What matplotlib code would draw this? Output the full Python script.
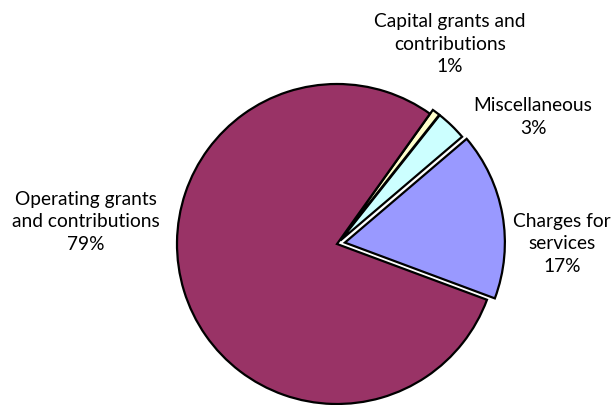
import matplotlib.pyplot as plt

# revenue shares (percent)
labels = ['Charges for\nservices\n17%', 'Miscellaneous\n3%',
          'Capital grants and\ncontributions\n1%',
          'Operating grants\nand contributions\n79%']
values = [16.9, 3.1, 0.8, 79.2]
colors = ['#9999FF', '#CCFFFF', '#FFFFCC', '#993366']
explode = [0.05, 0.03, 0.03, 0.0]

plt.rcParams['font.family'] = ['Lato', 'DejaVu Sans']

fig = plt.figure(figsize=(6.15, 4.06), dpi=100)
ax = fig.add_axes([0, 0, 1, 1])

ax.pie(values, colors=colors, explode=explode, startangle=-20.4,
       counterclock=True,
       wedgeprops={'edgecolor': 'black', 'linewidth': 1.6})

# pie centre at pixel (337, 245), radius 160 px
ax.set_xlim(-337 / 160, (615 - 337) / 160)
ax.set_ylim(-(406 - 245) / 160, 245 / 160)
ax.set_aspect('equal')
ax.axis('off')

# label positions in figure pixels (x, y from top)
label_pos = [(562, 244), (533, 117), (450, 44), (86, 222)]
for lab, (px, py) in zip(labels, label_pos):
    fig.text(px / 615, 1 - py / 406, lab, ha='center', va='center',
             fontsize=13.8, linespacing=1.42, color='black')

fig.savefig('out.png', dpi=100)
